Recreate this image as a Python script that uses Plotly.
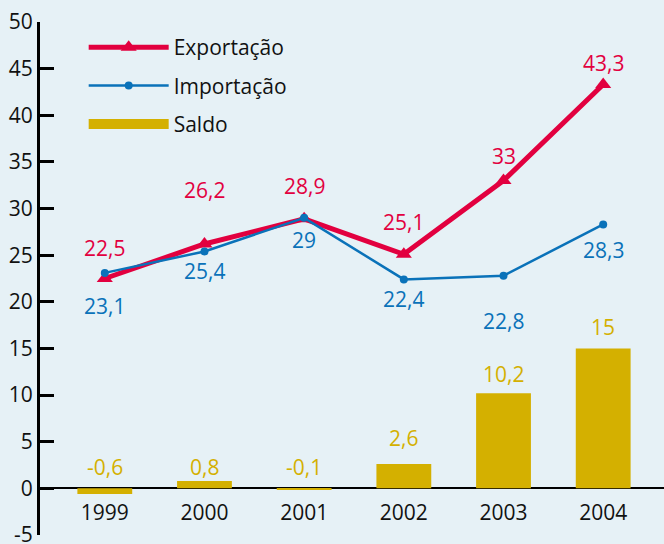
import plotly.graph_objects as go

years = ["1999", "2000", "2001", "2002", "2003", "2004"]
exportacao = [22.5, 26.2, 28.9, 25.1, 33, 43.3]
importacao = [23.1, 25.4, 29, 22.4, 22.8, 28.3]
saldo = [-0.6, 0.8, -0.1, 2.6, 10.2, 15]

exp_labels = ["22,5", "26,2", "28,9", "25,1", "33", "43,3"]
imp_labels = ["23,1", "25,4", "29", "22,4", "22,8", "28,3"]
sal_labels = ["-0,6", "0,8", "-0,1", "2,6", "10,2", "15"]
y_ticks = [-5, 0, 5, 10, 15, 20, 25, 30, 35, 40, 45, 50]
y_tick_text = ["-5", "0", "5", "10", "15", "20", "25", "30", "35", "40", "45", "50"]

RED = "#e2003f"
BLUE = "#0a72b9"
GOLD = "#d4b000"
BG = "#e6f1f6"
FONT = "Open Sans"
FS = 21

exp_shift = [31, 54, 33, 32, 25, 21]
imp_shift = [-33, -20, -22, -20, -45, -26]
sal_shift = [21, 14, 21, 26, 19, 21]

fig = go.Figure()
fig.add_trace(go.Bar(x=years, y=saldo, name="Saldo", marker=dict(color=GOLD, line=dict(width=0)),
                     width=0.55, showlegend=False))
fig.add_trace(go.Scatter(x=years, y=exportacao, name="Exportação", mode="lines+markers",
                         line=dict(color=RED, width=5), legendgroup="a",
                         marker=dict(symbol="triangle-up", size=14, color=RED), legendrank=1))
fig.add_trace(go.Scatter(x=years, y=importacao, name="Importação", mode="lines+markers",
                         line=dict(color=BLUE, width=2.5), legendgroup="b",
                         marker=dict(symbol="circle", size=8, color=BLUE), legendrank=2))
# legend entry for the bars (wide rectangle swatch)
fig.add_trace(go.Scatter(x=[None], y=[None], name="Saldo", mode="lines", legendgroup="c",
                         line=dict(color=GOLD, width=19), legendrank=3, hoverinfo="skip"))

ann = []
for i, (y, t, s) in enumerate(zip(exportacao, exp_labels, exp_shift)):
    ann.append(dict(x=i, y=y, xref="x", yref="y", text=t, showarrow=False, yshift=s,
                    font=dict(color=RED, size=FS, family=FONT)))
for i, (y, t, s) in enumerate(zip(importacao, imp_labels, imp_shift)):
    ann.append(dict(x=i, y=y, xref="x", yref="y", text=t, showarrow=False, yshift=s,
                    font=dict(color=BLUE, size=FS, family=FONT)))
for i, (y, t, s) in enumerate(zip(saldo, sal_labels, sal_shift)):
    ann.append(dict(x=i, y=max(y, 0), xref="x", yref="y", text=t, showarrow=False, yshift=s,
                    font=dict(color=GOLD, size=FS, family=FONT)))

fig.update_layout(
    width=664, height=544,
    margin=dict(l=40, r=0, t=22, b=9, autoexpand=False),
    paper_bgcolor=BG, plot_bgcolor=BG,
    font=dict(family=FONT, size=FS, color="#111111"),
    annotations=ann,
    showlegend=True,
    legend=dict(x=0.07, y=0.99, xanchor="left", yanchor="top", bgcolor="rgba(0,0,0,0)",
                font=dict(size=FS, family=FONT), itemwidth=80, tracegroupgap=8,
                traceorder="grouped"),
)
fig.update_xaxes(type="category", range=[-0.65, 5.61], showgrid=False, showline=False, ticks="",
                 zeroline=False, automargin=False, anchor="free", position=0.072,
                 tickfont=dict(size=FS, color="#111111"))
fig.update_yaxes(range=[-5, 50], tickvals=y_ticks, ticktext=y_tick_text, showgrid=False,
                 showline=True, linecolor="#000000", linewidth=3, automargin=False,
                 ticks="inside", ticklen=14, tickwidth=3, tickcolor="#000000",
                 ticklabeloverflow="allow",
                 zeroline=True, zerolinecolor="#000000", zerolinewidth=2,
                 tickfont=dict(size=FS, color="#111111"))

fig.write_html("out.html", config={"displayModeBar": False},
               post_script="document.body.style.margin='0px';document.body.style.background='%s';" % BG)
